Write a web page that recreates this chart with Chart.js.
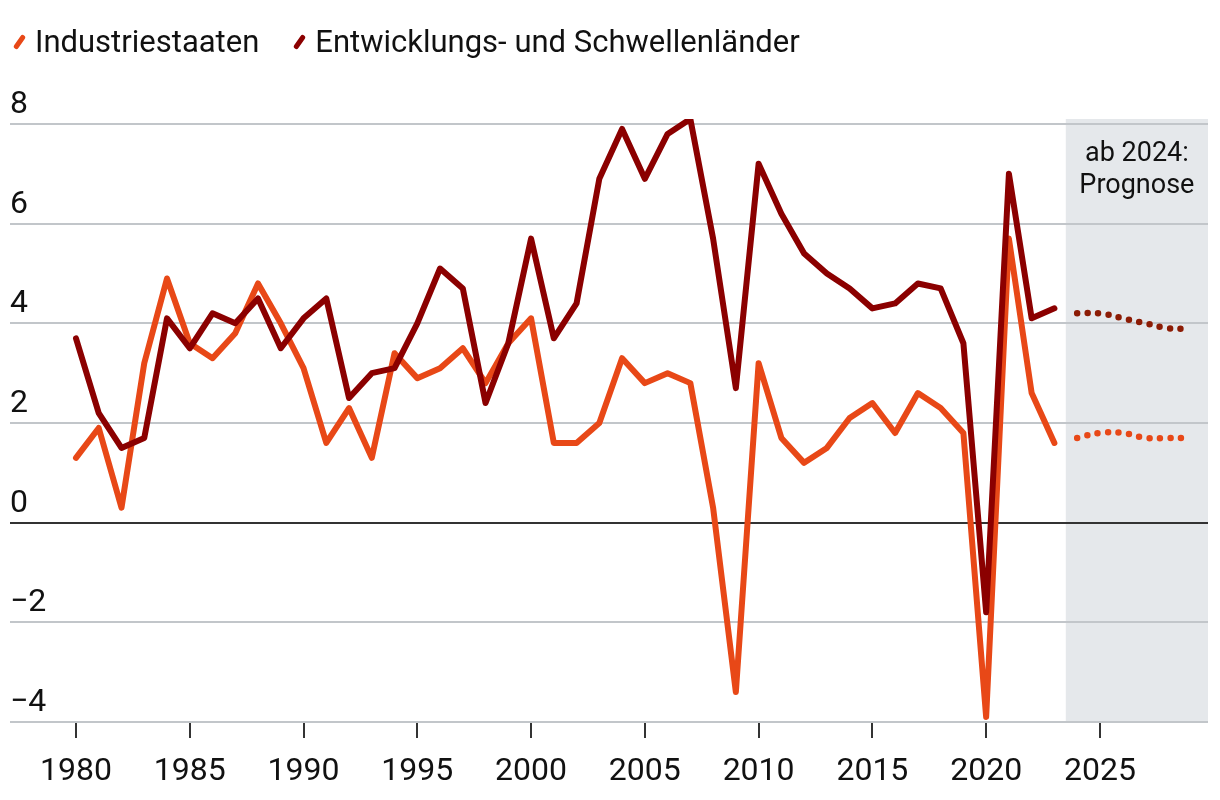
<!DOCTYPE html>
<html lang="de">
<head>
<meta charset="utf-8">
<script src="https://cdn.jsdelivr.net/npm/chart.js@4.4.1/dist/chart.umd.min.js"></script>
<style>
  html, body { margin: 0; padding: 0; background: #fff; }
  #wrap { position: relative; width: 1220px; height: 800px; font-family: Roboto, "Liberation Sans", sans-serif; color: #111; }
  #legend { position: absolute; top: 22px; left: 13px; display: flex; align-items: center; font-size: 31px; line-height: 40px; }
  #legend .item { display: flex; align-items: center; margin-right: 34px; }
  #legend .mark { display: inline-block; width: 5px; height: 16px; border-radius: 3px; transform: rotate(35deg); margin: 0 13px 0 4px; }
  canvas { position: absolute; top: 0; left: 0; }
</style>
</head>
<body>
<div id="wrap">
  <canvas id="chart" width="1220" height="800"></canvas>
  <div id="legend"></div>
</div>
<script>
// ---------- Data ----------
const years = [1980,1981,1982,1983,1984,1985,1986,1987,1988,1989,1990,1991,1992,1993,1994,1995,1996,1997,1998,1999,
  2000,2001,2002,2003,2004,2005,2006,2007,2008,2009,2010,2011,2012,2013,2014,2015,2016,2017,2018,2019,2020,2021,2022,2023];
const industrie = [1.3,1.9,0.3,3.2,4.9,3.6,3.3,3.8,4.8,4.0,3.1,1.6,2.3,1.3,3.4,2.9,3.1,3.5,2.8,3.6,
  4.1,1.6,1.6,2.0,3.3,2.8,3.0,2.8,0.3,-3.4,3.2,1.7,1.2,1.5,2.1,2.4,1.8,2.6,2.3,1.8,-3.9,5.7,2.6,1.6];
const schwellen = [3.7,2.2,1.5,1.7,4.1,3.5,4.2,4.0,4.5,3.5,4.1,4.5,2.5,3.0,3.1,4.0,5.1,4.7,2.4,3.6,
  5.7,3.7,4.4,6.9,7.9,6.9,7.8,8.1,5.7,2.7,7.2,6.2,5.4,5.0,4.7,4.3,4.4,4.8,4.7,3.6,-1.8,7.0,4.1,4.3];

const forecastYears = [2024,2025,2026,2027,2028,2029];
const industrieForecast = [1.7,1.8,1.8,1.7,1.7,1.7];
const schwellenForecast = [4.2,4.2,4.1,4.0,3.9,3.9];

const xTicks = [1980,1985,1990,1995,2000,2005,2010,2015,2020,2025];
const yTicks = [-4,-2,0,2,4,6,8];

const seriesNames = ['Industriestaaten', 'Entwicklungs- und Schwellenländer'];
const forecastLabel = ['ab 2024:', 'Prognose'];

const ORANGE = '#e84817';
const DARK = '#8b0000';
const DARK_DOTS = '#8c1c05';
const FONT = 'Roboto, "Liberation Sans", sans-serif';

const pts = (xs, ys) => xs.map((x, i) => ({x, y: ys[i]}));

// ---------- HTML legend ----------
const legendEl = document.getElementById('legend');
[[seriesNames[0], ORANGE], [seriesNames[1], DARK]].forEach(([name, color]) => {
  const item = document.createElement('span');
  item.className = 'item';
  item.innerHTML = `<span class="mark" style="background:${color}"></span><span>${name}</span>`;
  legendEl.appendChild(item);
});

// ---------- Plugins ----------
const forecastShade = {
  id: 'forecastShade',
  beforeDraw(chart) {
    const {ctx, chartArea, scales} = chart;
    const x0 = scales.x.getPixelForValue(2023.5);
    ctx.save();
    ctx.fillStyle = '#e5e8eb';
    ctx.fillRect(x0, chartArea.top, chartArea.right - x0, chartArea.bottom - chartArea.top);
    ctx.restore();
  },
  afterDatasetsDraw(chart) {
    const {ctx, chartArea, scales} = chart;
    const x0 = scales.x.getPixelForValue(2023.5);
    const cx = (x0 + chartArea.right) / 2;
    ctx.save();
    ctx.fillStyle = '#111';
    ctx.font = '27px ' + FONT;
    ctx.textAlign = 'center';
    ctx.textBaseline = 'middle';
    ctx.fillText(forecastLabel[0], cx, chartArea.top + 35);
    ctx.fillText(forecastLabel[1], cx, chartArea.top + 67);
    ctx.restore();
  }
};

// ---------- Chart ----------
new Chart(document.getElementById('chart'), {
  type: 'line',
  data: {
    datasets: [
      { label: seriesNames[0], data: pts(years, industrie), borderColor: ORANGE, borderWidth: 6, order: 2,
        pointRadius: 0, tension: 0, borderCapStyle: 'round', borderJoinStyle: 'round' },
      { label: seriesNames[1], data: pts(years, schwellen), borderColor: DARK, borderWidth: 6, order: 1,
        pointRadius: 0, tension: 0, borderCapStyle: 'round', borderJoinStyle: 'round' },
      { label: seriesNames[0] + ' Prognose', data: pts(forecastYears, industrieForecast), borderColor: ORANGE,
        borderWidth: 6.5, borderDash: [0, 10.5], borderCapStyle: 'round', pointRadius: 0, tension: 0.4, order: 3 },
      { label: seriesNames[1] + ' Prognose', data: pts(forecastYears, schwellenForecast), borderColor: DARK_DOTS,
        borderWidth: 6.5, borderDash: [0, 10.5], borderCapStyle: 'round', pointRadius: 0, tension: 0.4, order: 3 }
    ]
  },
  options: {
    responsive: false,
    animation: false,
    layout: { padding: { top: 119, left: 10, right: 12, bottom: -6 } },
    plugins: { legend: { display: false }, tooltip: { enabled: false } },
    scales: {
      x: {
        type: 'linear',
        min: 1977.1,
        max: 2029.75,
        afterBuildTicks: scale => { scale.ticks = xTicks.map(v => ({value: v})); },
        grid: { drawOnChartArea: false, drawTicks: true, tickLength: 16, color: '#333', lineWidth: 2 },
        border: { display: false },
        ticks: { autoSkip: false, maxRotation: 0, padding: 18, color: '#111',
          font: { family: FONT, size: 32, lineHeight: 1 }, callback: v => String(v) }
      },
      y: {
        min: -4,
        max: 8.1,
        afterBuildTicks: scale => { scale.ticks = yTicks.map(v => ({value: v})); },
        grid: { drawTicks: false, lineWidth: 2,
          color: c => (c.tick && c.tick.value === 0) ? '#333' : '#c2c6ca' },
        border: { display: false },
        ticks: { mirror: true, padding: 0, labelOffset: -19, color: '#111',
          font: { family: FONT, size: 32 }, callback: v => String(v).replace('-', '\u2212') }
      }
    }
  },
  plugins: [forecastShade]
});
</script>
</body>
</html>
